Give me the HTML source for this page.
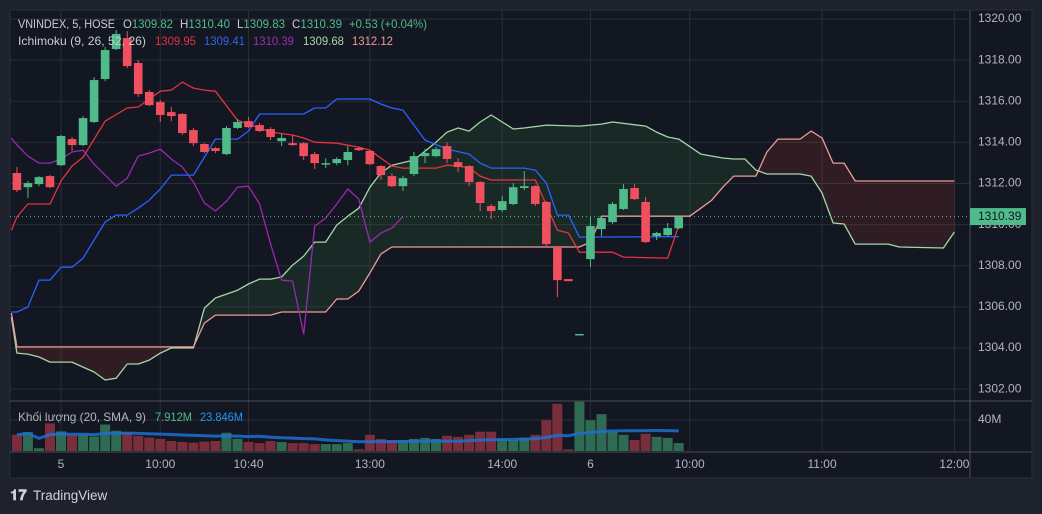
<!DOCTYPE html>
<html><head><meta charset="utf-8">
<style>
html,body{margin:0;padding:0;background:#1e222d;}
svg{display:block;font-family:"Liberation Sans",sans-serif;}
</style></head>
<body>
<svg id="chart" width="1042" height="514" viewBox="0 0 1042 514" xmlns="http://www.w3.org/2000/svg">
  <rect x="0" y="0" width="1042" height="514" fill="#1e222d"/>
  <rect x="10" y="10" width="1022" height="468" fill="#131722" stroke="#2a2e39"/>
  <g id="grid"></g>
  <g id="cloud"></g>
  <g id="lines"></g>
  <g id="candles"></g>
  <g id="volume"></g>
  <g id="axes"></g>
  <g font-size="12" dominant-baseline="middle">
    <text x="18" y="25" fill="#c9ccd4" textLength="97" lengthAdjust="spacingAndGlyphs">VNINDEX, 5, HOSE</text>
    <text x="123" y="25" fill="#c9ccd4" textLength="50" lengthAdjust="spacingAndGlyphs">O<tspan fill="#4fbb8a">1309.82</tspan></text>
    <text x="180" y="25" fill="#c9ccd4" textLength="50" lengthAdjust="spacingAndGlyphs">H<tspan fill="#4fbb8a">1310.40</tspan></text>
    <text x="237" y="25" fill="#c9ccd4" textLength="48" lengthAdjust="spacingAndGlyphs">L<tspan fill="#4fbb8a">1309.83</tspan></text>
    <text x="292" y="25" fill="#c9ccd4" textLength="50" lengthAdjust="spacingAndGlyphs">C<tspan fill="#4fbb8a">1310.39</tspan></text>
    <text x="349" y="25" fill="#4fbb8a" textLength="78" lengthAdjust="spacingAndGlyphs">+0.53 (+0.04%)</text>
    <text x="18" y="42" fill="#c9ccd4" textLength="128" lengthAdjust="spacingAndGlyphs">Ichimoku (9, 26, 52, 26)</text>
    <text x="155" y="42" fill="#e0333f" textLength="41" lengthAdjust="spacingAndGlyphs">1309.95</text>
    <text x="204" y="42" fill="#2e66e8" textLength="41" lengthAdjust="spacingAndGlyphs">1309.41</text>
    <text x="253" y="42" fill="#9c2fae" textLength="41" lengthAdjust="spacingAndGlyphs">1310.39</text>
    <text x="303" y="42" fill="#a5d6a7" textLength="41" lengthAdjust="spacingAndGlyphs">1309.68</text>
    <text x="352" y="42" fill="#ef9a9a" textLength="41" lengthAdjust="spacingAndGlyphs">1312.12</text>
  </g>
  <g font-size="12" dominant-baseline="middle">
    <text x="18" y="418" fill="#b2b5be" textLength="128" lengthAdjust="spacingAndGlyphs">Khối lượng (20, SMA, 9)</text>
    <text x="155" y="418" fill="#4fbb8a" textLength="37" lengthAdjust="spacingAndGlyphs">7.912M</text>
    <text x="200" y="418" fill="#2196f3" textLength="43" lengthAdjust="spacingAndGlyphs">23.846M</text>
  </g>
  <g>
    <text x="10" y="500" fill="#d1d4dc" font-size="15" font-weight="bold">𝟏𝟕</text>
    <text x="33" y="500" fill="#d1d4dc" font-size="13.5">TradingView</text>
  </g>
</svg>
<script>
// ---- data ----
const openP  = [1312.51,1311.82,1311.97,1312.36,1312.89,1314.16,1313.87,1314.99,1317.08,1318.54,1319.07,1317.86,1316.45,1315.96,1315.47,1315.38,1314.60,1313.92,1313.72,1313.43,1314.70,1315.03,1314.84,1314.65,1314.06,1313.96,1313.96,1313.43,1312.99,1312.99,1313.14,1313.72,1313.58,1312.85,1312.36,1311.87,1312.46,1313.33,1313.33,1313.82,1313.04,1312.85,1312.07,1310.90,1310.71,1311.00,1311.78,1311.87,1311.10,1308.91,1307.35,1304.68,1308.32,1309.78,1310.12,1310.76,1311.78,1311.10,1309.44,1309.49,1309.82];
const highP  = [1312.80,1312.12,1312.36,1312.41,1314.36,1314.26,1315.28,1317.17,1318.63,1319.46,1319.41,1318.00,1316.54,1316.06,1315.72,1315.42,1314.70,1313.96,1313.77,1314.79,1315.13,1315.23,1314.94,1314.74,1314.40,1314.36,1314.01,1313.53,1313.23,1313.28,1313.82,1313.77,1313.62,1312.89,1312.51,1312.36,1313.53,1313.67,1313.77,1314.01,1313.23,1312.89,1312.12,1311.00,1311.39,1312.02,1312.60,1311.92,1311.14,1308.95,1307.35,1304.68,1310.37,1310.37,1311.10,1311.97,1311.97,1311.34,1309.64,1310.08,1310.40];
const lowP   = [1311.58,1311.29,1311.87,1311.78,1312.85,1313.58,1313.82,1314.94,1316.98,1318.49,1317.61,1316.20,1315.76,1314.99,1315.03,1314.36,1313.82,1313.48,1313.48,1313.38,1314.65,1314.70,1314.50,1314.11,1313.82,1313.82,1313.14,1312.70,1312.75,1312.89,1312.89,1313.58,1312.89,1312.17,1311.82,1311.63,1312.36,1312.99,1313.28,1312.99,1312.55,1311.87,1310.66,1310.27,1310.61,1310.95,1311.68,1310.90,1308.86,1306.47,1307.25,1304.68,1307.93,1309.44,1310.03,1310.71,1311.19,1309.10,1309.25,1309.44,1309.78];
const closeP = [1311.68,1312.02,1312.31,1311.82,1314.31,1313.87,1315.18,1317.03,1318.49,1319.27,1317.71,1316.35,1315.81,1315.33,1315.28,1314.45,1313.96,1313.53,1313.58,1314.70,1314.99,1314.74,1314.55,1314.26,1314.21,1313.87,1313.33,1312.99,1312.99,1313.19,1313.53,1313.62,1312.94,1312.41,1311.87,1312.26,1313.33,1313.48,1313.67,1313.19,1312.80,1312.07,1311.05,1310.66,1311.14,1311.82,1311.87,1311.00,1309.05,1307.30,1307.25,1304.68,1309.93,1310.32,1311.00,1311.73,1311.24,1309.15,1309.59,1309.83,1310.39];
const volumeM = [20.9,24.4,3.6,35.6,25.3,20.0,20.9,18.7,34.2,26.2,23.6,19.6,17.3,15.6,12.9,11.6,10.7,12.0,12.9,23.6,15.6,11.6,10.2,12.9,11.6,10.2,10.2,8.9,8.9,8.9,10.2,2.2,20.9,15.6,14.2,14.2,15.6,16.9,15.6,19.6,18.2,20.9,24.9,24.9,15.6,14.2,16.9,20.9,39.6,60.9,2.2,63.6,39.6,47.6,24.9,20.9,14.2,22.2,18.2,16.9,10.2];
const volumeUp = [0,1,1,0,1,0,1,1,1,1,0,0,0,0,0,0,0,0,0,1,1,0,0,0,1,0,0,0,1,1,1,0,0,0,0,1,1,1,1,0,0,0,0,0,1,1,1,0,0,0,0,1,1,1,1,1,0,0,1,1,1];
// Ichimoku lines: breakpoints (bar index, price)
const tenkanIdx = [-0.5,0,1,3,4,5,6,8,10,11,13,14,15,16,17,18,20,21,23,25,26,27,29,31,32,34,35,38,39,40,41,42,43,47,49,50,51,54,55,59,60];
const tenkanVal = [1309.73,1310.37,1311.00,1311.00,1312.12,1312.85,1313.28,1315.03,1315.67,1315.72,1316.49,1316.54,1316.93,1316.64,1316.54,1316.49,1315.08,1314.89,1314.50,1314.36,1314.21,1314.01,1313.96,1313.77,1313.62,1312.85,1312.75,1312.75,1312.89,1312.85,1312.75,1312.36,1312.17,1312.17,1309.73,1309.59,1308.66,1308.66,1308.42,1308.37,1309.95];
const kijunIdx = [-0.5,0,1,2,3,4,5,6,7,8,9,10,11,12,13,14,16,18,20,21,22,26,27,28,29,32,33,34,35,37,39,41,42,43,46,47,48,49,50,51,60];
const kijunVal = [1305.75,1305.75,1305.99,1307.30,1307.30,1307.93,1307.93,1308.37,1309.25,1310.12,1310.46,1310.46,1310.80,1311.19,1311.73,1312.41,1312.41,1314.16,1314.16,1314.55,1315.38,1315.38,1315.67,1315.67,1316.11,1316.11,1315.86,1315.67,1315.57,1314.11,1313.67,1313.43,1312.99,1312.75,1312.75,1312.65,1312.02,1310.46,1310.46,1309.39,1309.41];
const spanAIdx = [-0.5,0,1,2,3,5,6,7,8,9,10,11,12,13,14,16,17,18,20,21,22,23,24,25,26,27,28,29,30,31,32,33,34,36,38,39,40,41,42,43,44,45,46,48,51,53,54,57,58,59,60,62,64,65,66,67,68,71,72,73,74,75,76,79,80,84,85];
const spanAVal = [1305.50,1303.75,1303.70,1303.56,1303.31,1303.31,1303.07,1302.83,1302.44,1302.53,1303.22,1303.22,1303.41,1303.75,1304.00,1304.00,1305.94,1306.43,1306.81,1307.11,1307.35,1307.35,1307.45,1308.03,1308.47,1309.15,1309.15,1309.98,1310.41,1310.80,1311.82,1312.51,1312.89,1313.14,1314.01,1314.50,1314.70,1314.55,1314.99,1315.33,1314.99,1314.65,1314.70,1314.84,1314.79,1314.89,1314.99,1314.79,1314.50,1314.26,1314.16,1313.43,1313.24,1313.19,1313.19,1312.65,1312.46,1312.46,1312.36,1311.53,1310.08,1310.03,1309.05,1309.05,1308.91,1308.86,1309.64];
const spanBIdx = [-0.5,0,16,17,18,23,24,28,29,30,31,32,33,34,51,52,53,61,62,63,64,65,67,68,69,71,72,73,74,75,76,85];
const spanBVal = [1305.70,1304.05,1304.05,1305.21,1305.60,1305.60,1305.75,1305.75,1306.38,1306.38,1306.77,1307.65,1308.57,1308.91,1308.91,1309.15,1310.41,1310.41,1310.80,1311.19,1311.82,1312.36,1312.36,1313.53,1314.16,1314.16,1314.55,1314.21,1312.99,1312.99,1312.12,1312.12];
const priceTicks = [1320,1318,1316,1314,1312,1310,1308,1306,1304,1302];
const timeTickLabels = ["5","10:00","10:40","13:00","14:00","6","10:00","11:00","12:00"];
const timeTickIdx = [4,13,21,32,44,52,61,73,85];
const volumeTicks = [40];
const volumeTickLabels = ["40M"];
const lastPrice = 1310.39;
const laggingShift = 25;

// ---- scales ----
const xOf = i => 16.9 + i * 11.03;
const yOf = p => 19 + (1320 - p) * 20.56;
const yVol = v => 451 - v * 31 / 40;
const NS = "http://www.w3.org/2000/svg";
function mk(tag, attrs, parent) {
  const e = document.createElementNS(NS, tag);
  for (const k in attrs) e.setAttribute(k, attrs[k]);
  parent.appendChild(e);
  return e;
}
const gGrid = document.getElementById('grid');
const gCloud = document.getElementById('cloud');
const gLines = document.getElementById('lines');
const gCandles = document.getElementById('candles');
const gVol = document.getElementById('volume');
const gAxes = document.getElementById('axes');

// grid
priceTicks.forEach(p => {
  const l = mk('line', {x1: 10, x2: 970, y1: yOf(p), y2: yOf(p), stroke: '#2a2e39', 'stroke-width': 1}, gGrid);
  
  
  const t = mk('text', {x: 978, y: yOf(p), fill: '#b2b5be', 'font-size': 12, 'dominant-baseline': 'middle'}, gAxes);
  t.textContent = p.toFixed(2);
  
  
});
volumeTicks.forEach((v, k) => {
  const l = mk('line', {x1: 10, x2: 970, y1: yVol(v), y2: yVol(v), stroke: '#2a2e39', 'stroke-width': 1}, gGrid);
  
  
  const t = mk('text', {x: 978, y: yVol(v), fill: '#b2b5be', 'font-size': 12, 'dominant-baseline': 'middle'}, gAxes);
  t.textContent = volumeTickLabels[k];
  
  
});
timeTickIdx.forEach((i, k) => {
  const l = mk('line', {x1: xOf(i), x2: xOf(i), y1: 10, y2: 452, stroke: '#2a2e39', 'stroke-width': 1}, gGrid);
  
  
  const t = mk('text', {x: xOf(i), y: 465, fill: '#b2b5be', 'font-size': 12, 'text-anchor': 'middle', 'dominant-baseline': 'middle'}, gAxes);
  t.textContent = timeTickLabels[k];
  
  
});

// cloud
function interp(idx, val, k) {
  if (k <= idx[0]) return val[0];
  for (let j = 1; j < idx.length; j++) {
    if (k <= idx[j]) { const t = (k - idx[j-1]) / (idx[j] - idx[j-1]); return val[j-1] + t * (val[j] - val[j-1]); }
  }
  return val[val.length - 1];
}
const cloudStart = spanAIdx[0], cloudEnd = spanAIdx[spanAIdx.length - 1];
const steps = [];
for (let k = cloudStart; k < cloudEnd; k += 0.5) steps.push(k);
steps.push(cloudEnd);
for (let s = 0; s < steps.length - 1; s++) {
  const k0 = steps[s], k1 = steps[s+1];
  const a0 = interp(spanAIdx, spanAVal, k0), a1 = interp(spanAIdx, spanAVal, k1);
  const b0 = interp(spanBIdx, spanBVal, k0), b1 = interp(spanBIdx, spanBVal, k1);
  const d0 = a0 - b0, d1 = a1 - b1;
  const segs = [];
  if (d0 * d1 < 0) {
    const t = d0 / (d0 - d1), km = k0 + t * (k1 - k0), m = a0 + t * (a1 - a0);
    segs.push([k0, a0, b0, km, m, m, d0]);
    segs.push([km, m, m, k1, a1, b1, d1]);
  } else segs.push([k0, a0, b0, k1, a1, b1, d0 + d1]);
  segs.forEach(sg => {
    const pts = [[xOf(sg[0]), yOf(sg[1])], [xOf(sg[3]), yOf(sg[4])], [xOf(sg[3]), yOf(sg[5])], [xOf(sg[0]), yOf(sg[2])]];
    const p = mk('polygon', {points: pts.map(q => q.join(',')).join(' '), fill: sg[6] >= 0 ? 'rgba(67,160,71,0.13)' : 'rgba(244,67,54,0.13)'}, gCloud);
    
    
  });
}

function drawLine(idx, val, color, name, w) {
  const d = idx.map((i, j) => (j ? 'L' : 'M') + xOf(i).toFixed(1) + ',' + yOf(val[j]).toFixed(1)).join('');
  const p = mk('path', {d: d, fill: 'none', stroke: color, 'stroke-width': w || 1.3, 'stroke-linejoin': 'round'}, gLines);
  
  
}
drawLine(spanAIdx, spanAVal, '#a5d6a7', 'leading-span-a-line');
drawLine(spanBIdx, spanBVal, '#ef9a9a', 'leading-span-b-line');
const lagIdx = [], lagVal = [];
for (let i = laggingShift - 1; i < closeP.length; i++) { lagIdx.push(i - laggingShift); lagVal.push(closeP[i]); }
lagIdx[0] = -0.5;
drawLine(lagIdx, lagVal, '#9c27b0', 'lagging-span-line');
drawLine(kijunIdx, kijunVal, '#2962ff', 'base-line-kijun');
drawLine(tenkanIdx, tenkanVal, '#e53342', 'conversion-line-tenkan');

// last price dotted line
const pl = mk('line', {x1: 10, x2: 970, y1: yOf(lastPrice), y2: yOf(lastPrice), stroke: '#4fbb8a', 'stroke-width': 1, 'stroke-dasharray': '1 3'}, gLines);



// candles
closeP.forEach((c, i) => {
  const o = openP[i], up = c >= o, col = up ? '#4fbb8a' : '#f0505e', x = xOf(i);
  const w = mk('line', {x1: x, x2: x, y1: yOf(highP[i]), y2: yOf(lowP[i]), stroke: col, 'stroke-width': 1}, gCandles);
  
  
  const top = yOf(Math.max(o, c)), bot = yOf(Math.min(o, c));
  const b = mk('rect', {x: x - 4.3, y: top, width: 8.6, height: Math.max(1.5, bot - top), fill: col}, gCandles);
  
  
});

// volume
volumeM.forEach((v, i) => {
  const r = mk('rect', {x: xOf(i) - 5, y: yVol(v), width: 10, height: 451 - yVol(v), fill: volumeUp[i] ? '#2f6a53' : '#7a2e3b'}, gVol);
  
  
});
const smaIdx = [], smaVal = [];
volumeM.forEach((v, i) => {
  const s = Math.max(0, i - 19); let sum = 0;
  for (let j = s; j <= i; j++) sum += volumeM[j];
  smaIdx.push(i); smaVal.push(sum / (i - s + 1));
});
const smaD = smaIdx.map((i, j) => (j ? 'L' : 'M') + xOf(i).toFixed(1) + ',' + yVol(smaVal[j]).toFixed(1)).join('');
const sp = mk('path', {d: smaD, fill: 'none', stroke: '#1f6fd0', 'stroke-width': 3, 'stroke-opacity': 0.85}, gVol);



// separators
[[970, 10, 970, 478], [10, 401, 1032, 401], [10, 452, 1032, 452]].forEach(s => {
  const l = mk('line', {x1: s[0], y1: s[1], x2: s[2], y2: s[3], stroke: '#4a4e59', 'stroke-width': 1}, gAxes);
  
  
});
// last price label
const ly = yOf(lastPrice);
const lb = mk('rect', {x: 970, y: ly - 8.5, width: 56, height: 17, fill: '#4fbb8a'}, gAxes);


const lt = mk('text', {x: 978, y: ly, fill: '#131722', 'font-size': 12, 'dominant-baseline': 'middle'}, gAxes);
lt.textContent = lastPrice.toFixed(2);


</script>
</body></html>
